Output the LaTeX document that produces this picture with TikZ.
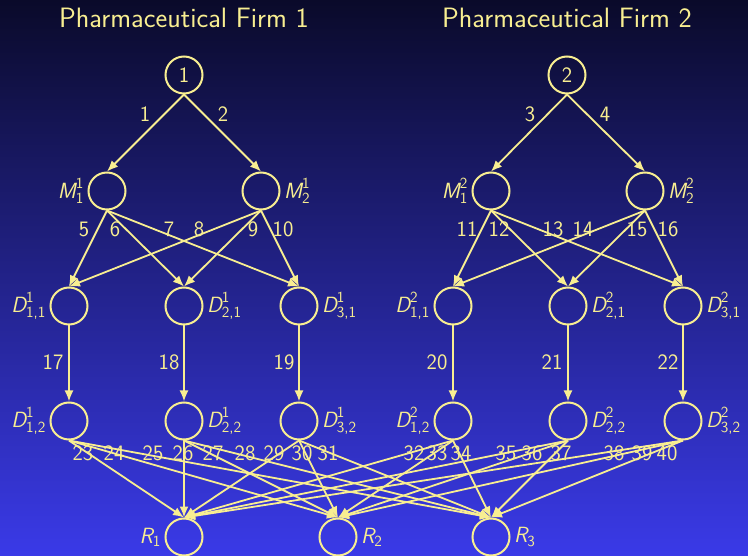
\documentclass[tikz,border=0pt]{standalone}
\usepackage{amsmath}
\usepackage{fontspec}
\usetikzlibrary{arrows.meta}
\definecolor{ylw}{RGB}{248,238,145}
\definecolor{bgtop}{RGB}{10,10,42}
\definecolor{bgbot}{RGB}{58,58,232}
\newcommand{\mv}[1]{\textsf{\itshape #1}}
\newcommand{\sd}[1]{\textsf{#1}}
\begin{document}
\begin{tikzpicture}[x=1pt,y=-1pt,
  every node/.style={text=ylw, font=\sffamily\fontsize{22}{26}\selectfont},
  nd/.style={circle, draw=ylw, line width=2pt, minimum size=37pt, inner sep=0pt},
  arr/.style={draw=ylw, line width=1.8pt, -{Latex[length=11pt,width=9pt]}},
  ttl/.style={font=\sffamily\fontsize{28}{32}\selectfont},
  lb/.style={inner sep=0pt}
]
\shade[top color=bgtop, bottom color=bgbot] (0,0) rectangle (748,556);
\useasboundingbox (0,0) rectangle (748,556);

\node[ttl] (t1) at (184,18) {Pharmaceutical Firm 1};
\node[ttl] (t2) at (567,18) {Pharmaceutical Firm 2};

\node[nd] (n1) at (184,75) {1};
\node[nd] (n2) at (567,75) {2};

\node[nd, label={[label distance=0pt]left:$\mv{M}^{\sd{1}}_{\sd{1}}$}] (M11) at (107,191) {};
\node[nd, label={[label distance=0pt]right:$\mv{M}^{\sd{1}}_{\sd{2}}$}] (M21) at (261,191) {};
\node[nd, label={[label distance=0pt]left:$\mv{M}^{\sd{2}}_{\sd{1}}$}] (M12) at (491,191) {};
\node[nd, label={[label distance=0pt]right:$\mv{M}^{\sd{2}}_{\sd{2}}$}] (M22) at (645,191) {};

\node[nd, label={[label distance=0pt]left:$\mv{D}^{\sd{1}}_{\sd{1,1}}$}] (D111) at (69,306) {};
\node[nd, label={[label distance=0pt]right:$\mv{D}^{\sd{1}}_{\sd{2,1}}$}] (D121) at (184,306) {};
\node[nd, label={[label distance=0pt]right:$\mv{D}^{\sd{1}}_{\sd{3,1}}$}] (D131) at (299,306) {};
\node[nd, label={[label distance=0pt]left:$\mv{D}^{\sd{2}}_{\sd{1,1}}$}] (D211) at (453,306) {};
\node[nd, label={[label distance=0pt]right:$\mv{D}^{\sd{2}}_{\sd{2,1}}$}] (D221) at (568,306) {};
\node[nd, label={[label distance=0pt]right:$\mv{D}^{\sd{2}}_{\sd{3,1}}$}] (D231) at (683,306) {};

\node[nd, label={[label distance=0pt]left:$\mv{D}^{\sd{1}}_{\sd{1,2}}$}] (D112) at (69,421) {};
\node[nd, label={[label distance=0pt]right:$\mv{D}^{\sd{1}}_{\sd{2,2}}$}] (D122) at (184,421) {};
\node[nd, label={[label distance=0pt]right:$\mv{D}^{\sd{1}}_{\sd{3,2}}$}] (D132) at (299,421) {};
\node[nd, label={[label distance=0pt]left:$\mv{D}^{\sd{2}}_{\sd{1,2}}$}] (D212) at (453,421) {};
\node[nd, label={[label distance=0pt]right:$\mv{D}^{\sd{2}}_{\sd{2,2}}$}] (D222) at (568,421) {};
\node[nd, label={[label distance=0pt]right:$\mv{D}^{\sd{2}}_{\sd{3,2}}$}] (D232) at (683,421) {};

\node[nd, label={[label distance=0pt]left:$\mv{R}_{\sd{1}}$}] (R1) at (184,537) {};
\node[nd, label={[label distance=0pt]right:$\mv{R}_{\sd{2}}$}] (R2) at (338,537) {};
\node[nd, label={[label distance=0pt]right:$\mv{R}_{\sd{3}}$}] (R3) at (491,537) {};

% top links
\draw[arr] (n1.south) -- (M11.north);
\draw[arr] (n1.south) -- (M21.north);
\draw[arr] (n2.south) -- (M12.north);
\draw[arr] (n2.south) -- (M22.north);
% manufacturing -> distribution -> retail
\foreach \f in {1,2}{
  \foreach \m in {1,2}{
    \foreach \d in {1,2,3}{
      \draw[arr] (M\m\f.south) -- (D\f\d1.north);
    }
  }
  \foreach \d in {1,2,3}{
    \draw[arr] (D\f\d1.south) -- (D\f\d2.north);
    \foreach \r in {1,2,3}{
      \draw[arr] (D\f\d2.south) -- (R\r.north);
    }
  }
}

% link labels
\node[lb] (l1) at (145,114) {1};
\node[lb] (l2) at (223,114) {2};
\node[lb] (l3) at (530,114) {3};
\node[lb] (l4) at (605,114) {4};
\node[lb] (l5) at (84,229) {5};
\node[lb] (l6) at (115,229) {6};
\node[lb] (l7) at (169,229) {7};
\node[lb] (l8) at (199,229) {8};
\node[lb] (l9) at (253,229) {9};
\node[lb] (l10) at (283,229) {10};
\node[lb] (l11) at (467,229) {11};
\node[lb] (l12) at (499,229) {12};
\node[lb] (l13) at (553,229) {13};
\node[lb] (l14) at (583,229) {14};
\node[lb] (l15) at (637,229) {15};
\node[lb] (l16) at (668,229) {16};
\node[lb] (l17) at (53,362) {17};
\node[lb] (l18) at (169,362) {18};
\node[lb] (l19) at (284,362) {19};
\node[lb] (l20) at (437,362) {20};
\node[lb] (l21) at (552,362) {21};
\node[lb] (l22) at (668,362) {22};
\node[lb] (l23) at (83,453) {23};
\node[lb] (l24) at (114,453) {24};
\node[lb] (l25) at (153,453) {25};
\node[lb] (l26) at (183,453) {26};
\node[lb] (l27) at (213,453) {27};
\node[lb] (l28) at (245,453) {28};
\node[lb] (l29) at (274,453) {29};
\node[lb] (l30) at (302,453) {30};
\node[lb] (l31) at (328,453) {31};
\node[lb] (l32) at (414,453) {32};
\node[lb] (l33) at (437,453) {33};
\node[lb] (l34) at (461,453) {34};
\node[lb] (l35) at (506,453) {35};
\node[lb] (l36) at (532,453) {36};
\node[lb] (l37) at (561,453) {37};
\node[lb] (l38) at (614,453) {38};
\node[lb] (l39) at (642,453) {39};
\node[lb] (l40) at (667,453) {40};
\end{tikzpicture}
\end{document}
